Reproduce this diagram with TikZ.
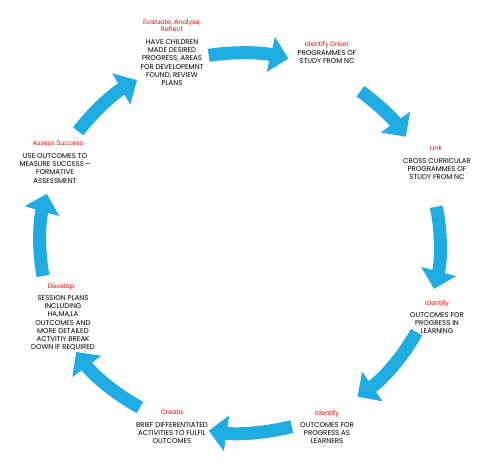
\documentclass[tikz,border=0pt]{standalone}
\usepackage{fontspec}
\setmainfont{Poppins}
\usetikzlibrary{arrows.meta,calc}
\definecolor{cycblue}{RGB}{30,172,226}
\definecolor{ttlred}{RGB}{255,0,0}
\tikzset{
  cyc/.style={draw=cycblue, line width=13pt, line cap=butt,
    -{Triangle[width=35pt,length=18pt]}},
  ttl/.style={text=ttlred, font=\fontsize{6.5}{7.8}\selectfont, inner sep=0pt, anchor=north, align=center},
  body/.style={text=black, font=\fontsize{7}{8.3}\selectfont, inner sep=0pt, anchor=north, align=center},
}
\begin{document}
\begin{tikzpicture}[x=1pt,y=1pt]
\useasboundingbox (0,0) rectangle (496,465);
\coordinate (c) at (240,222);
% arrows
\foreach \a/\b [count=\i] in {99/76, 53/34, 11/-14, -28/-54, -75/-99, -120/-145, -170/-195, 144/121}{
  \draw[cyc] ($(c)+(\a:200 and 190)$) coordinate (s\i) arc[start angle=\a, end angle=\b, x radius=200, y radius=190];
}
% texts
\node[ttl] (t1) at (172,465-19) {Evaluate, Analyse,\\Reflect};
\node[body] (b1) at (172,465-39) {HAVE CHILDREN\\MADE DESIRED\\PROGRESS, AREAS\\FOR DEVELOPEMNT\\FOUND, REVIEW\\PLANS};
\node[ttl] (t2) at (327,465-41) {Identify Driver};
\node[body] (b2) at (327,465-50) {PROGRAMMES OF\\STUDY FROM NC};
\node[ttl] (t3) at (436,465-145) {Link};
\node[body] (b3) at (437,465-158) {CROSS CURRICULAR\\PROGRAMMES OF\\STUDY FROM NC};
\node[ttl] (t4) at (437,465-300) {Identify};
\node[body] (b4) at (437,465-312) {OUTCOMES FOR\\PROGRESS IN\\LEARNING};
\node[ttl] (t5) at (327,465-410) {Identify};
\node[body] (b5) at (327,465-422) {OUTCOMES FOR\\PROGRESS AS\\LEARNERS};
\node[ttl] (t6) at (172,465-410) {Create};
\node[body] (b6) at (172,465-422) {BRIEF DIFFERENTIATED\\ACTIVITIES TO FULFIL\\OUTCOMES};
\node[ttl] (t7) at (61,465-283) {Develop};
\node[body] (b7) at (63,465-295) {SESSION PLANS\\INCLUDING\\HA,MA,LA\\OUTCOMES AND\\MORE DETAILED\\ACTVITIY BREAK\\DOWN IF REQUIRED};
\node[ttl] (t8) at (58,465-141) {Assess Success};
\node[body] (b8) at (55,465-153) {USE OUTCOMES TO\\MEASURE SUCCESS –\\FORMATIVE\\ASSESSMENT};
\end{tikzpicture}
\end{document}
